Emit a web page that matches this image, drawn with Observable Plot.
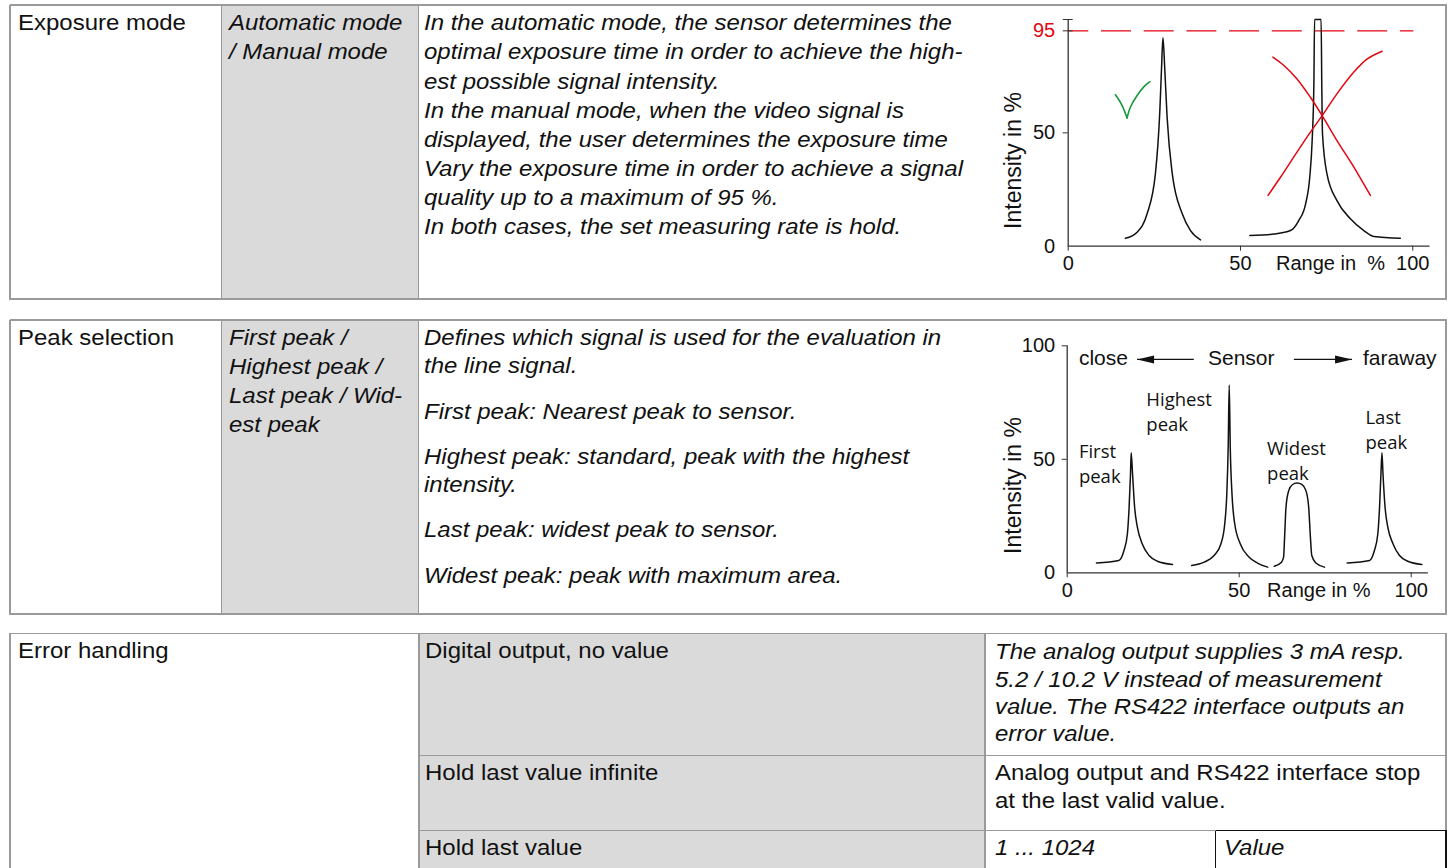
<!DOCTYPE html>
<html><head><meta charset="utf-8">
<script src="https://cdn.jsdelivr.net/npm/d3@7"></script>
<script src="https://cdn.jsdelivr.net/npm/@observablehq/plot@0.6"></script>
<style>
html,body{margin:0;padding:0;background:#fff;width:1452px;height:868px;overflow:hidden;}
#page{position:relative;width:1452px;height:868px;font-family:"Liberation Sans",Arial,Helvetica,sans-serif;color:#111;}
.ln{position:absolute;white-space:nowrap;font-size:22px;line-height:22px;transform:scaleX(1.09);transform-origin:0 0;}
.it{font-style:italic;}
.chart{position:absolute;}
.blk{position:absolute;}
</style></head><body><div id="page"></div>
<script>
// ---------- table texts ----------
const rowLabels = ["Exposure mode", "Peak selection", "Error handling"];
const exposureOptions = ["Automatic mode", "/ Manual mode"];
const exposureText = [
  "In the automatic mode, the sensor determines the",
  "optimal exposure time in order to achieve the high-",
  "est possible signal intensity.",
  "In the manual mode, when the video signal is",
  "displayed, the user determines the exposure time",
  "Vary the exposure time in order to achieve a signal",
  "quality up to a maximum of 95 %.",
  "In both cases, the set measuring rate is hold."
];
const peakOptions = ["First peak /", "Highest peak /", "Last peak / Wid-", "est peak"];
const peakText = [
  ["Defines which signal is used for the evaluation in", "the line signal."],
  ["First peak: Nearest peak to sensor."],
  ["Highest peak: standard, peak with the highest", "intensity."],
  ["Last peak: widest peak to sensor."],
  ["Widest peak: peak with maximum area."]
];
const errorOptions = ["Digital output, no value", "Hold last value infinite", "Hold last value"];
const errorText1 = ["The analog output supplies 3 mA resp.", "5.2 / 10.2 V instead of measurement", "value. The RS422 interface outputs an", "error value."];
const errorText2 = ["Analog output and RS422 interface stop", "at the last valid value."];
const holdRange = "1 ... 1024";
const holdValue = "Value";

// ---------- chart 1 (exposure) data: [range %, intensity %] ----------
const autoPeak = [[16.6,3.5],[20.0,6.2],[22.9,14.3],[25.3,31.9],[26.6,59.9],[27.1,79],[27.5,92],[28.0,79],[28.7,57],[30.2,32],[33.1,14.3],[35.5,6.9],[38.4,2.8]];
const saturatedPeak = [[52.7,4.7],[59.7,5.4],[64.5,6.9],[66.9,11.3],[68.9,18.7],[70.1,30.4],[70.8,46.6],[71.3,71.6],[71.5,100],[73.4,100],[73.6,70],[73.8,49.6],[75.1,31.9],[78.0,20.1],[81.9,12.1],[85.8,6.9],[88.7,4.3],[96.4,3.5]];
const redFalling = [[59.4,83.4],[62.6,79.7],[66.4,73.8],[70.3,65.7],[73.7,57.6],[78.0,46.6],[82.9,34.9],[87.7,22.4]];
const redRising = [[58.0,22.4],[61.6,30.4],[66.4,41.5],[70.3,50.3],[73.7,57.6],[78.0,67.2],[82.9,76.8],[86.8,82.6],[91.1,86.0]];
const checkLeft = [[13.7,66.8],[15.5,62.5],[17.1,56.6]];
const checkRight = [[17.1,56.6],[18.1,61.5],[20.0,66.5],[22.0,70.4],[23.7,72.6]];
const exposureLimit = 95;
const exposureLimitEnd = 100.3;
const chart1YTicks = [50];
const xTicks = [0, 50, 100];

// ---------- chart 2 (peak selection) data ----------
const firstPeak = [[8.5,4.3],[15.0,5.4],[16.5,9.8],[17.5,17.2],[18.0,28.9],[18.4,43.5],[18.6,52.9],[19.0,43.5],[19.6,28.9],[20.4,20.1],[21.8,12.8],[23.8,7.6],[26.2,5.1],[30.6,3.7]];
const highestPeak = [[36.2,3.2],[39.8,4.7],[42.7,7.6],[44.7,12.8],[45.8,21.6],[46.4,34.8],[46.8,55.3],[47.1,82.7],[47.4,55.3],[47.9,34.8],[48.7,21.6],[50.3,12.8],[52.9,6.9],[55.3,4.3],[58.3,2.5]];
const widestPeak = [[60.2,2.9],[62.3,4.7],[62.9,6.9],[63.2,15.7],[63.6,28.9],[64.4,36.2],[65.5,38.9],[66.8,39.6],[68.2,38.9],[69.4,36.2],[70.2,28.9],[70.7,15.7],[71.1,7.6],[72.3,4.3],[74.8,2.5]];
const lastPeak = [[81.4,4.3],[87.9,5.4],[89.3,9.8],[90.3,17.2],[90.8,28.9],[91.2,43.5],[91.5,52.9],[91.8,43.5],[92.4,28.9],[93.2,20.1],[94.7,12.8],[96.6,7.6],[99.0,5.1],[103.1,3.7]];
const peakNames = ["First\npeak", "Highest\npeak", "Widest\npeak", "Last\npeak"];
const peakNameX = [3.4, 23.0, 58.1, 86.7];
const peakNameY = [58.3, 81.5, 59.8, 73.3];
const sensorEnds = ["close", "faraway"];
const sensorEndX = [3.4, 86.0];
const sensorMiddle = "Sensor";
const sensorMiddleX = 50.6;
const sensorWordY = 94.3;
const sensorArrowFrom = [36.8, 65.9];
const sensorArrowTo = [20.3, 82.8];
const sensorArrowY = 94.0;
const chart2YTicks = [50, 100];

// ---------- drawing ----------
const page = document.getElementById("page");
const GRID = "#9a9a9a", FILL = "#dadada", RED = "#e30613", GREEN = "#17993f", AX = "#333", INK = "#111";

function block(x1, y1, x2, y2, color) {
  const d = document.createElement("div");
  d.className = "blk";
  d.style.left = x1 + "px"; d.style.top = y1 + "px";
  d.style.width = (x2 - x1) + "px"; d.style.height = (y2 - y1) + "px";
  d.style.background = color;
  page.appendChild(d);
}
const LW = 1.4;
function hline(y, x1, x2, c = GRID) { block(x1, y - LW / 2, x2 + LW / 2, y + LW / 2, c); }
function vline(x, y1, y2, c = GRID) { block(x - LW / 2, y1, x + LW / 2, y2 + LW / 2, c); }
function txt(s, x, base, italic) {
  const d = document.createElement("div");
  d.className = "ln" + (italic ? " it" : "");
  d.textContent = s;
  d.style.left = x + "px";
  d.style.top = (base - 18.6) + "px";
  page.appendChild(d);
}

const L = 10, R = 1446, C1 = 221.7, C2 = 418.6;
// table 1
block(C1, 5, C2, 299, FILL);
hline(5, L, R); hline(299, L, R); vline(L, 5, 299); vline(R, 5, 299); vline(C1, 5, 299); vline(C2, 5, 299);
// table 2
block(C1, 320, C2, 614, FILL);
hline(320, L, R); hline(614, L, R); vline(L, 320, 614); vline(R, 320, 614); vline(C1, 320, 614); vline(C2, 320, 614);
// table 3
const T3 = 633.3, E1 = 419, E2 = 985, RA = 755.7, RB = 830.7, SP = 1215.7, BOT = 900;
block(E1, T3, E2, BOT, FILL);
hline(T3, L, R); vline(L, T3, BOT); vline(E1, T3, BOT); vline(E2, T3, BOT);
hline(RA, E1, R); hline(RB, E1, SP);
vline(R, T3, RB);
hline(RB, SP, R, "#111"); vline(SP, RB, BOT, "#111"); vline(R, RB, BOT, "#111");

// table texts
const LH1 = 29.05;
txt(rowLabels[0], 17.5, 31, false);
exposureOptions.forEach((s, i) => txt(s, 228.5, 31 + i * LH1, true));
exposureText.forEach((s, i) => txt(s, 424, 31 + i * LH1, true));

txt(rowLabels[1], 17.5, 346, false);
peakOptions.forEach((s, i) => txt(s, 228.5, 346 + i * 29, true));
let b = 346;
peakText.forEach((para, pi) => {
  if (pi > 0) b += 45.3;
  para.forEach((s, i) => { if (i > 0) b += 28; txt(s, 424, b, true); });
});

txt(rowLabels[2], 17.5, 659, false);
txt(errorOptions[0], 425, 659, false);
txt(errorOptions[1], 425, 781, false);
txt(errorOptions[2], 425, 856, false);
errorText1.forEach((s, i) => txt(s, 995, 660 + i * 27.2, true));
errorText2.forEach((s, i) => txt(s, 995, 781 + i * 27.2, false));
txt(holdRange, 995, 856, true);
txt(holdValue, 1223.5, 856, true);

// ---------- charts ----------
const xy = {x: d => d[0], y: d => d[1]};
const FONT = '"Liberation Sans", Arial, sans-serif';

const chart1 = Plot.plot({
  width: 450, height: 282,
  marginLeft: 72.7, marginRight: 15.5, marginTop: 11, marginBottom: 44.3,
  x: {domain: [0, 105]}, y: {domain: [0, 100]},
  style: {fontFamily: FONT, fontSize: "20px", color: INK, background: "transparent", overflow: "visible"},
  marks: [
    Plot.ruleY([exposureLimit], {x1: 0, x2: exposureLimitEnd, stroke: RED, strokeWidth: 1.3, strokeDasharray: "30,12.7", strokeDashoffset: 9.4}),
    Plot.ruleX([0], {y1: 0, y2: 100, stroke: AX, strokeWidth: 1.3}),
    Plot.ruleY([0], {x1: 0, x2: 105, stroke: AX, strokeWidth: 1.3}),
    Plot.axisX({ticks: xTicks, tickSize: 5, tickPadding: 5, label: null, stroke: AX, fontSize: 20}),
    Plot.axisY({ticks: chart1YTicks, tickSize: 5, tickPadding: 8, label: null, stroke: AX, fontSize: 20}),
    Plot.axisY({ticks: [0], tickSize: 0, tickPadding: 13, label: null, fontSize: 20}),
    Plot.axisY({ticks: [exposureLimit, 100], tickSize: 10, dx: 5, tickFormat: () => "", label: null, stroke: AX}),
    Plot.axisY({ticks: [exposureLimit], tickSize: 0, tickPadding: 13, label: null, color: RED, fill: RED, fontSize: 20}),
    Plot.line(autoPeak, {...xy, curve: "monotone-x", stroke: INK, strokeWidth: 1.5}),
    Plot.line(saturatedPeak, {...xy, curve: "monotone-x", stroke: INK, strokeWidth: 1.5}),
    Plot.line(redFalling, {...xy, curve: "catmull-rom", stroke: RED, strokeWidth: 1.5}),
    Plot.line(redRising, {...xy, curve: "catmull-rom", stroke: RED, strokeWidth: 1.5}),
    Plot.line(checkLeft, {...xy, curve: "catmull-rom", stroke: GREEN, strokeWidth: 1.6}),
    Plot.line(checkRight, {...xy, curve: "catmull-rom", stroke: GREEN, strokeWidth: 1.6}),
    Plot.text(["Intensity in %"], {text: d => d, frameAnchor: "left", rotate: -90, dx: -55, dy: 27.7, fontSize: 23, lineAnchor: "middle", textAnchor: "middle", fill: INK}),
    Plot.text(["Range in\u00a0 %"], {text: d => d, frameAnchor: "bottom", dx: 81.4, dy: 17.6, lineAnchor: "middle", textAnchor: "middle", fontSize: 20, fill: INK})
  ]
});
chart1.classList.add("chart");
chart1.style.left = "995px"; chart1.style.top = "8px";
page.appendChild(chart1);

// elongated filled arrowheads (tip at the dot position)
const headLeft = {draw(ctx) { ctx.moveTo(0, 0); ctx.lineTo(17, -4); ctx.lineTo(17, 4); ctx.closePath(); }};
const headRight = {draw(ctx) { ctx.moveTo(0, 0); ctx.lineTo(-17, -4); ctx.lineTo(-17, 4); ctx.closePath(); }};
const arrows = sensorArrowFrom.map((f, i) => ({from: f, to: sensorArrowTo[i], dir: i === 0 ? "left" : "right"}));
const ends = sensorEnds.map((w, i) => ({w, x: sensorEndX[i]}));
const names = peakNames.map((n, i) => ({n, x: peakNameX[i], y: peakNameY[i]}));

const chart2 = Plot.plot({
  width: 450, height: 280,
  marginLeft: 71.7, marginRight: 17.1, marginTop: 15.3, marginBottom: 37.7,
  x: {domain: [0, 105]}, y: {domain: [0, 100]},
  style: {fontFamily: FONT, fontSize: "20px", color: INK, background: "transparent", overflow: "visible"},
  marks: [
    Plot.ruleX([0], {y1: 0, y2: 100, stroke: AX, strokeWidth: 1.3}),
    Plot.ruleY([0], {x1: 0, x2: 105, stroke: AX, strokeWidth: 1.3}),
    Plot.axisX({ticks: xTicks, tickSize: 5, tickPadding: 5, label: null, stroke: AX, fontSize: 20}),
    Plot.axisY({ticks: chart2YTicks, tickSize: 5, tickPadding: 7, label: null, stroke: AX, fontSize: 20}),
    Plot.axisY({ticks: [0], tickSize: 0, tickPadding: 12, label: null, fontSize: 20}),
    Plot.line(firstPeak, {...xy, curve: "monotone-x", stroke: INK, strokeWidth: 1.5}),
    Plot.line(highestPeak, {...xy, curve: "monotone-x", stroke: INK, strokeWidth: 1.5}),
    Plot.line(widestPeak, {...xy, curve: "monotone-x", stroke: INK, strokeWidth: 1.5}),
    Plot.line(lastPeak, {...xy, curve: "monotone-x", stroke: INK, strokeWidth: 1.5}),
    Plot.link(arrows, {x1: "from", x2: "to", y1: sensorArrowY, y2: sensorArrowY, stroke: INK, strokeWidth: 1.2}),
    Plot.dot(arrows.filter(d => d.dir === "left"), {x: "to", y: sensorArrowY, symbol: headLeft, r: 5, fill: INK, stroke: "none"}),
    Plot.dot(arrows.filter(d => d.dir === "right"), {x: "to", y: sensorArrowY, symbol: headRight, r: 5, fill: INK, stroke: "none"}),
    Plot.text(ends, {x: "x", y: sensorWordY, text: "w", textAnchor: "start", lineAnchor: "middle", fontSize: 21, fill: INK}),
    Plot.text([sensorMiddle], {x: sensorMiddleX, y: sensorWordY, text: d => d, textAnchor: "middle", lineAnchor: "middle", fontSize: 21, fill: INK}),
    Plot.text(names, {x: "x", y: "y", text: "n", textAnchor: "start", lineAnchor: "top", lineHeight: 1.36, fontFamily: '"Open Sans", "Noto Sans", sans-serif', fontSize: 18.5, fill: INK}),
    Plot.text(["Intensity in %"], {text: d => d, frameAnchor: "left", rotate: -90, dx: -54, dy: 26.2, fontSize: 23, lineAnchor: "middle", textAnchor: "middle", fill: INK}),
    Plot.text(["Range in %"], {text: d => d, frameAnchor: "bottom", dx: 71, dy: 17.7, lineAnchor: "middle", textAnchor: "middle", fontSize: 20, fill: INK})
  ]
});
chart2.classList.add("chart");
chart2.style.left = "995px"; chart2.style.top = "330px";
page.appendChild(chart2);
</script>
</body></html>
